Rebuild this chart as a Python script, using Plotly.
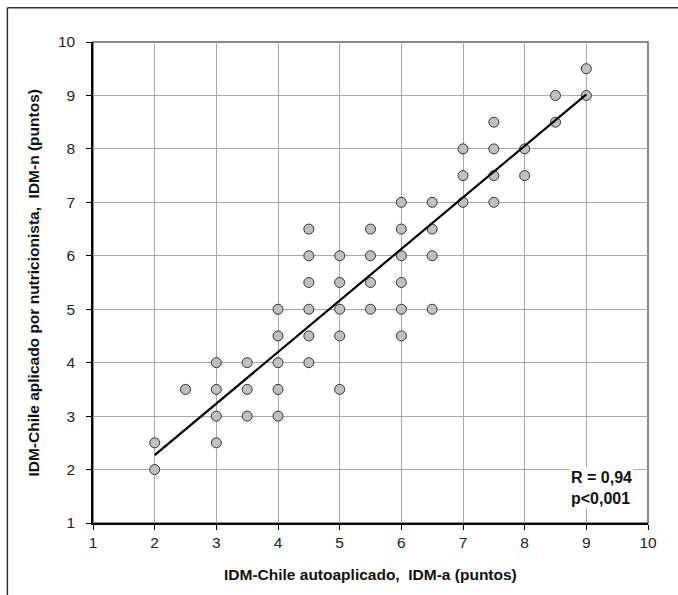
import plotly.graph_objects as go

# Data
idm_a = [2, 2,
         2.5,
         3, 3, 3, 3,
         3.5, 3.5, 3.5,
         4, 4, 4, 4, 4,
         4.5, 4.5, 4.5, 4.5, 4.5, 4.5,
         5, 5, 5, 5, 5,
         5.5, 5.5, 5.5, 5.5,
         6, 6, 6, 6, 6, 6,
         6.5, 6.5, 6.5, 6.5,
         7, 7, 7,
         7.5, 7.5, 7.5, 7.5,
         8, 8,
         8.5, 8.5,
         9, 9]
idm_n = [2.5, 2,
         3.5,
         4, 3.5, 3, 2.5,
         4, 3.5, 3,
         5, 4.5, 4, 3.5, 3,
         6.5, 6, 5.5, 5, 4.5, 4,
         6, 5.5, 5, 4.5, 3.5,
         6.5, 6, 5.5, 5,
         7, 6.5, 6, 5.5, 5, 4.5,
         7, 6.5, 6, 5,
         8, 7.5, 7,
         8.5, 8, 7.5, 7,
         8, 7.5,
         9, 8.5,
         9.5, 9]
fit_x = [2, 9]
fit_y = [2.27, 9.02]
ticks = list(range(1, 11))

x_title = "IDM-Chile autoaplicado,  IDM-a (puntos)"
y_title = "IDM-Chile aplicado por nutricionista,  IDM-n (puntos)"
stats_text = "R = 0,94<br>p<0,001"

FONT = "Liberation Sans, Arial, sans-serif"

fig = go.Figure()
fig.add_trace(go.Scatter(
    x=idm_a, y=idm_n, mode="markers",
    marker=dict(size=10, color="#c0c0c0", line=dict(color="#333333", width=1)),
    showlegend=False, hoverinfo="x+y"))
fig.add_trace(go.Scatter(
    x=fit_x, y=fit_y, mode="lines",
    line=dict(color="black", width=2.2),
    showlegend=False, hoverinfo="skip"))

axis_common = dict(
    range=[1, 10], tickvals=ticks, showgrid=True, gridcolor="#a8a8a8", gridwidth=1,
    showline=True, linecolor="black", linewidth=1.5, ticks="outside", ticklen=5,
    tickcolor="black", tickwidth=1.2, zeroline=False,
    tickfont=dict(family=FONT, size=15.5, color="#222222"), fixedrange=True)

fig.update_layout(
    width=678, height=595,
    margin=dict(l=92.7, r=30, t=41.7, b=72.3),
    paper_bgcolor="white", plot_bgcolor="white",
    font=dict(family=FONT),
    xaxis=dict(**axis_common),
    yaxis=dict(**axis_common, ticklabelstandoff=8),
    shapes=[
        # plot area frame (top/right)
        dict(type="rect", xref="paper", yref="paper", x0=0, y0=0, x1=1, y1=1,
             line=dict(color="#666666", width=1.5), layer="below"),
        # outer figure border: top and left
        dict(type="line", xref="paper", yref="paper", x0=-0.1543, x1=1.06,
             y0=1.0711, y1=1.0711, line=dict(color="#333333", width=1.5)),
        dict(type="line", xref="paper", yref="paper", x0=-0.1543, x1=-0.1543,
             y0=1.0711, y1=-0.16, line=dict(color="#333333", width=1.5)),
    ],
    annotations=[
        dict(text="<b>" + x_title + "</b>", xref="paper", yref="paper",
             x=0.5, y=-0.107, xanchor="center", yanchor="middle", showarrow=False,
             font=dict(family=FONT, size=15.5, color="#111111")),
        dict(text="<b>" + y_title + "</b>", xref="paper", yref="paper",
             x=-0.108, y=0.5, xanchor="center", yanchor="middle", textangle=-90,
             showarrow=False, font=dict(family=FONT, size=15.5, color="#111111")),
        dict(text="<b>" + stats_text + "</b>", xref="paper", yref="paper",
             x=0.9755, y=0.03, xanchor="right", yanchor="bottom", align="left",
             showarrow=False, bgcolor="white",
             font=dict(family=FONT, size=16, color="#111111")),
    ],
)

fig.write_html("out.html")
